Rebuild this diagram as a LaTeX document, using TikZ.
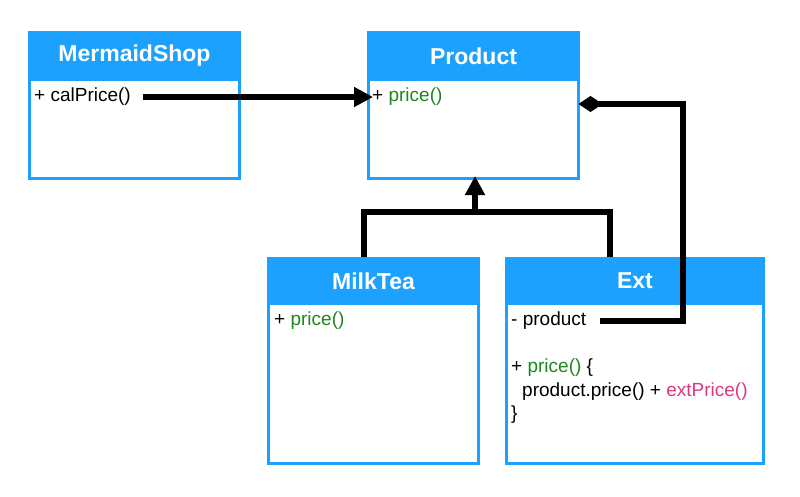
\documentclass[tikz,border=0pt]{standalone}
\usepackage{fontspec}
\setmainfont{Liberation Sans}
\usetikzlibrary{arrows.meta}
\definecolor{umlblue}{RGB}{29,161,255}
\definecolor{mgreen}{RGB}{30,135,30}
\definecolor{mpink}{RGB}{224,56,128}
\tikzset{
  hdr/.style={rectangle, fill=umlblue, draw=umlblue, line width=3pt, anchor=north west, inner sep=0pt,
    text=white, font=\fontsize{23}{27}\selectfont\bfseries},
  bodybox/.style={rectangle, draw=umlblue, fill=white, line width=3pt, anchor=north west, inner sep=0pt},
  txt/.style={anchor=west, inner sep=0pt, font=\fontsize{19}{23}\selectfont},
  conn/.style={line width=5.5pt, black},
  tri/.style={-{Triangle[length=19pt,width=19pt]}},
}
\begin{document}
\begin{tikzpicture}[x=1pt,y=-1pt]
\useasboundingbox (0,0) rectangle (800,496);
% MermaidShop
\node[bodybox, minimum width=210pt, minimum height=99pt] (msB) at (28,78) {};
\node[hdr, minimum width=210pt, minimum height=47pt] (msH) at (28,31) {MermaidShop};
\node[txt] (calp) at (34,97) {+ calPrice()};
% Product
\node[bodybox, minimum width=210pt, minimum height=99pt] (prB) at (367,78) {};
\node[hdr, minimum width=210pt, minimum height=47pt] (prH) at (367,31) {Product};
\node[txt] (prp) at (372,97) {+ \textcolor{mgreen}{price()}};
% MilkTea
\node[bodybox, minimum width=210pt, minimum height=160pt] (mtB) at (267,302) {};
\node[hdr, minimum width=210pt, minimum height=45pt] (mtH) at (267,257) {MilkTea};
\node[txt] (mtp) at (274,321) {+ \textcolor{mgreen}{price()}};
% Ext
\node[bodybox, minimum width=257pt, minimum height=160pt] (exB) at (505,302) {};
\node[hdr, minimum width=257pt, minimum height=45pt] (exH) at (505,257) {Ext};
\node[txt] (exprod) at (511,321) {- product};
\node[txt] (exl1) at (511,368) {+ \textcolor{mgreen}{price()} \{};
\node[txt] (exl2) at (522,392) {product.price() + \textcolor{mpink}{extPrice()}};
\node[txt] (exl3) at (511,415) {\}};
% connectors
\draw[conn, tri, shorten <=12pt] (calp.east) -- ([xshift=1pt]prp.west);
\coordinate (corner) at (683,104);
\draw[conn, line join=miter, -{Diamond[length=24pt,width=16pt]}, shorten <=14pt]
  (exprod.east) -| (corner) -- ([xshift=-1.5pt]prB.east |- corner);
\coordinate (junc) at (475,212);
\draw[conn, line join=miter] ([xshift=97pt]mtH.north west) |- (junc) -| ([xshift=105pt]exH.north west);
\draw[conn, tri] (junc) -- ([yshift=4pt]junc |- prB.south);
\end{tikzpicture}
\end{document}
